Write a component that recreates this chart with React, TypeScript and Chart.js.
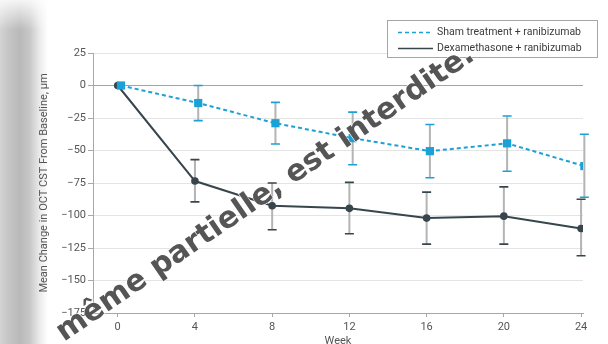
import React, { useEffect, useRef } from 'react';
import { Chart, registerables } from 'chart.js';

Chart.register(...registerables);

const weeks = [0, 4, 8, 12, 16, 20, 24];
const xTickValues = [0, 4, 8, 12, 16, 20, 24];
const yTickValues = [25, 0, -25, -50, -75, -100, -125, -150, -175];

const shamLabel = 'Sham treatment + ranibizumab';
const shamMean = [0, -13.5, -29, -40.5, -50.5, -44.5, -62];
const shamUpper = [null, 0, -13, -20.5, -30, -23.5, -37.5];
const shamLower = [null, -27, -45, -61, -71, -66, -86];

const dexLabel = 'Dexamethasone + ranibizumab';
const dexMean = [0, -73.5, -92.5, -94.5, -102, -100.5, -110];
const dexUpper = [null, -57, -75, -74.5, -82, -78, -87.5];
const dexLower = [null, -89.5, -111, -114, -122, -122, -131];

const yTitle = 'Mean Change in OCT CST From Baseline, µm';
const xTitle = 'Week';
const watermark = 'même partielle, est interdite.';

const SHAM_COLOR = '#1aa1d8';
const DEX_COLOR = '#37454d';
const FONT = 'Roboto, "Liberation Sans", Arial, sans-serif';

const errorBarPlugin = {
  id: 'errorBars',
  beforeDatasetsDraw(chart: any, _args: any, opts: any) {
    const ctx = chart.ctx;
    const y = chart.scales.y;
    (opts.sets || []).forEach((set: any, i: number) => {
      const meta = chart.getDatasetMeta(i);
      meta.data.forEach((pt: any, j: number) => {
        const up = set.upper[j];
        const lo = set.lower[j];
        if (up == null || lo == null) return;
        const x = pt.x;
        const yu = y.getPixelForValue(up);
        const yl = y.getPixelForValue(lo);
        ctx.save();
        ctx.strokeStyle = '#b4b4b4';
        ctx.lineWidth = 2;
        ctx.beginPath();
        ctx.moveTo(x, yu);
        ctx.lineTo(x, yl);
        ctx.stroke();
        ctx.strokeStyle = set.cap;
        ctx.lineWidth = 1.6;
        ctx.beginPath();
        ctx.moveTo(x - 4.5, yu);
        ctx.lineTo(x + 4.5, yu);
        ctx.moveTo(x - 4.5, yl);
        ctx.lineTo(x + 4.5, yl);
        ctx.stroke();
        ctx.restore();
      });
    });
  },
};

const legendPlugin = {
  id: 'boxLegend',
  afterDraw(chart: any) {
    const ctx = chart.ctx;
    ctx.save();
    ctx.fillStyle = '#ffffff';
    ctx.fillRect(387, 20, 211, 38);
    ctx.strokeStyle = '#a6a6a6';
    ctx.lineWidth = 1;
    ctx.strokeRect(387.5, 20.5, 210, 37);
    const items = chart.data.datasets;
    const rows = [32.5, 48.5];
    items.forEach((ds: any, i: number) => {
      const yy = rows[i];
      ctx.strokeStyle = ds.borderColor;
      ctx.lineWidth = 1.5;
      ctx.setLineDash(ds.borderDash || []);
      ctx.beginPath();
      ctx.moveTo(398, yy);
      ctx.lineTo(433, yy);
      ctx.stroke();
      ctx.setLineDash([]);
      ctx.fillStyle = '#3c3c3c';
      ctx.font = `10.5px ${FONT}`;
      ctx.textBaseline = 'middle';
      ctx.textAlign = 'left';
      ctx.fillText(ds.label, 437, yy);
    });
    ctx.restore();
  },
};

export default function App() {
  const ref = useRef<HTMLCanvasElement | null>(null);

  useEffect(() => {
    document.body.style.margin = '0';
    if (!ref.current) return;
    const chart = new Chart(ref.current, {
      type: 'line',
      data: {
        datasets: [
          {
            label: shamLabel,
            data: weeks.map((w, i) => ({ x: w + 0.17, y: shamMean[i] })),
            borderColor: SHAM_COLOR,
            backgroundColor: SHAM_COLOR,
            borderWidth: 2,
            borderDash: [4, 3],
            pointStyle: 'rect',
            pointRadius: 5.8,
            pointBorderWidth: 0,
            tension: 0,
          },
          {
            label: dexLabel,
            data: weeks.map((w, i) => ({ x: w, y: dexMean[i] })),
            borderColor: DEX_COLOR,
            backgroundColor: DEX_COLOR,
            borderWidth: 2,
            pointStyle: 'circle',
            pointRadius: 3.8,
            pointBorderWidth: 0,
            tension: 0,
          },
        ],
      },
      options: {
        animation: false,
        responsive: false,
        layout: { padding: { left: 0, right: 25, top: 53, bottom: 0 } },
        plugins: {
          legend: { display: false },
          tooltip: { enabled: false },
          errorBars: {
            sets: [
              { upper: shamUpper, lower: shamLower, cap: SHAM_COLOR },
              { upper: dexUpper, lower: dexLower, cap: DEX_COLOR },
            ],
          },
        } as any,
        scales: {
          x: {
            type: 'linear',
            min: -1.28,
            max: 24.1,
            afterBuildTicks: (s: any) => {
              s.ticks = xTickValues.map((v) => ({ value: v }));
            },
            afterFit: (s: any) => {
              s.height = 31;
            },
            grid: {
              drawOnChartArea: false,
              drawTicks: true,
              tickLength: 4,
              tickColor: '#a8a8a8',
            },
            border: { color: '#a8a8a8', width: 1 },
            ticks: {
              padding: 4,
              color: '#555',
              font: { family: FONT, size: 11 },
              maxRotation: 0,
              autoSkip: false,
            },
            title: {
              display: true,
              text: xTitle,
              color: '#555',
              font: { family: FONT, size: 11 },
              padding: { top: 0, bottom: -4 },
            },
          },
          y: {
            type: 'linear',
            min: -175,
            max: 25,
            afterBuildTicks: (s: any) => {
              s.ticks = yTickValues.map((v) => ({ value: v }));
            },
            afterFit: (s: any) => {
              s.width = 93;
            },
            grid: {
              color: (c: any) => (c.tick && c.tick.value === 0 ? '#a4a4a4' : '#e4e4e4'),
              lineWidth: 1,
              drawTicks: true,
              tickLength: 5,
              tickColor: '#a8a8a8',
            },
            border: { color: '#a8a8a8', width: 1 },
            ticks: {
              padding: 2,
              color: '#555',
              font: { family: FONT, size: 11 },
              autoSkip: false,
              callback: (v: any) => String(v).replace('-', '\u2212'),
            },
            title: {
              display: true,
              text: yTitle,
              color: '#555',
              font: { family: FONT, size: 11 },
              padding: { top: 38, bottom: 0 },
            },
          },
        },
      },
      plugins: [errorBarPlugin, legendPlugin],
    });
    return () => chart.destroy();
  }, []);

  return (
    <div style={{ position: 'relative', width: 608, height: 344, overflow: 'hidden', background: '#fff' }}>
      <div
        style={{
          position: 'absolute',
          left: 0,
          top: 0,
          width: 48,
          height: 344,
          background:
            'linear-gradient(to right, #d4d4d4 0px, #c6c6c6 8px, #b9b9b9 20px, #c8c8c8 30px, #ececec 40px, #ffffff 48px)',
        }}
      />
      <div
        style={{
          position: 'absolute',
          left: 0,
          top: 0,
          width: 48,
          height: 30,
          background: 'linear-gradient(to bottom, rgba(255,255,255,0.85), rgba(255,255,255,0))',
        }}
      />
      <canvas ref={ref} width={608} height={344} style={{ position: 'absolute', left: 0, top: 0 }} />
      <svg width={608} height={344} style={{ position: 'absolute', left: 0, top: 0, pointerEvents: 'none' }}>
        <text
          x={64}
          y={342}
          transform="rotate(-34.5 64 342)"
          fontFamily='"DejaVu Sans", sans-serif'
          fontWeight="bold"
          fontSize={30}
          fill="#555555"
          stroke="#ffffff"
          strokeWidth={1}
          paintOrder="stroke"
        >
          {watermark}
        </text>
      </svg>
    </div>
  );
}
